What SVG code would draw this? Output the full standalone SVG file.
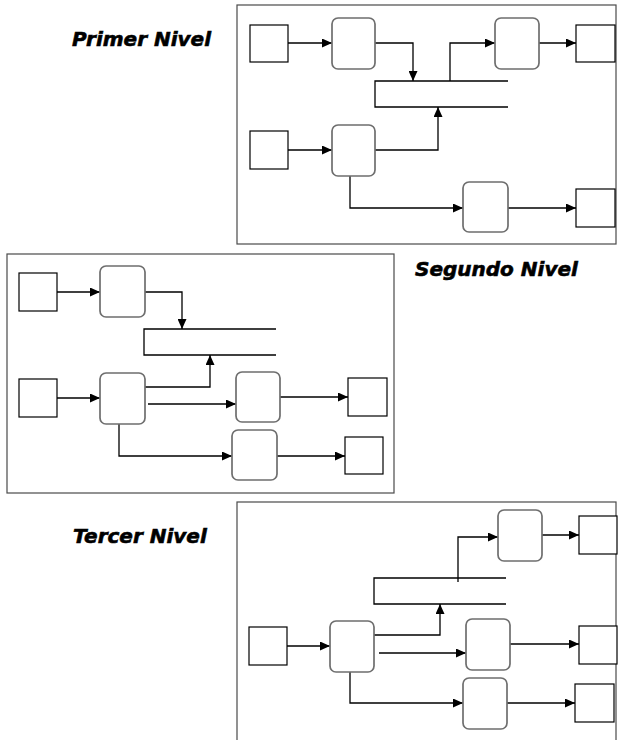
<svg xmlns="http://www.w3.org/2000/svg" width="618" height="740" viewBox="0 0 618 740">
<style>
.frame{fill:none;stroke:#4a4a4a;stroke-width:1.2}
.sq{fill:#fff;stroke:#000;stroke-width:1.2}
.rb{fill:#fff;stroke:#6e6e6e;stroke-width:1.7}
.ln{fill:none;stroke:#000;stroke-width:1.3}
.ar{fill:none;stroke:#000;stroke-width:1.3;marker-end:url(#ah)}
.lbl{font-family:"DejaVu Sans",sans-serif;font-weight:bold;font-style:italic;font-size:20px;fill:#000;stroke:#000;stroke-width:0.6}
</style>
<defs>
<marker id="ah" viewBox="0 0 10 9" refX="10" refY="4.5" markerWidth="10" markerHeight="9" markerUnits="userSpaceOnUse" orient="auto">
<path d="M0,0 L10,4.5 L0,9 z" fill="#000"/>
</marker>
</defs>
<rect width="618" height="740" fill="#fff"/>
<g id="labels">
<text class="lbl" x="72" y="46">Primer Nivel</text>
<text class="lbl" x="415" y="276">Segundo Nivel</text>
<text class="lbl" x="73" y="543">Tercer Nivel</text>
</g>
<g id="frames">
<rect class="frame" x="237" y="5" width="379" height="239"/>
<rect class="frame" x="7" y="254" width="387" height="239"/>
<rect class="frame" x="237" y="502" width="379" height="260"/>
</g>
<g id="connectors">
<path class="ar" d="M288,43 H332"/>
<path class="ar" d="M375,43 H413 V81"/>
<path class="ar" d="M450,81 V43 H495"/>
<path class="ar" d="M539,43 H576"/>
<path class="ar" d="M288,150 H332"/>
<path class="ar" d="M375,150 H438 V107"/>
<path class="ar" d="M350,176 V208 H463"/>
<path class="ar" d="M508,208 H576"/>
<path class="ar" d="M57,292 H100"/>
<path class="ar" d="M145,292 H182 V329"/>
<path class="ar" d="M57,398 H100"/>
<path class="ar" d="M145,387 H210 V355"/>
<path class="ar" d="M148,404 H236"/>
<path class="ar" d="M280,397 H348"/>
<path class="ar" d="M119,424 V456 H232"/>
<path class="ar" d="M277,456 H345"/>
<path class="ar" d="M458,582 V537 H498"/>
<path class="ar" d="M542,535 H579"/>
<path class="ar" d="M287,646 H330"/>
<path class="ar" d="M374,635 H440 V604"/>
<path class="ar" d="M379,653 H466"/>
<path class="ar" d="M510,644 H579"/>
<path class="ar" d="M350,672 V703 H463"/>
<path class="ar" d="M507,703 H575"/>
</g>
<g id="store1"><path class="ln" d="M508,81 H375 V107 H508"/></g>
<g id="store2"><path class="ln" d="M276,329 H144 V355 H276"/></g>
<g id="store3"><path class="ln" d="M506,578 H374 V604 H506"/></g>
<g id="p1-s1"><rect class="sq" x="250" y="25" width="38" height="37"/></g>
<g id="p1-b1"><rect class="rb" x="332" y="18" width="43" height="51" rx="6"/></g>
<g id="p1-b2"><rect class="rb" x="495" y="18" width="44" height="51" rx="6"/></g>
<g id="p1-s2"><rect class="sq" x="576" y="25" width="39" height="37"/></g>
<g id="p1-s3"><rect class="sq" x="250" y="131" width="38" height="38"/></g>
<g id="p1-b3"><rect class="rb" x="332" y="125" width="43" height="51" rx="6"/></g>
<g id="p1-b4"><rect class="rb" x="463" y="182" width="45" height="50" rx="6"/></g>
<g id="p1-s4"><rect class="sq" x="576" y="189" width="39" height="38"/></g>
<g id="p2-s1"><rect class="sq" x="19" y="273" width="38" height="38"/></g>
<g id="p2-b1"><rect class="rb" x="100" y="266" width="45" height="51" rx="6"/></g>
<g id="p2-s2"><rect class="sq" x="19" y="379" width="38" height="38"/></g>
<g id="p2-b2"><rect class="rb" x="100" y="373" width="45" height="51" rx="6"/></g>
<g id="p2-b3"><rect class="rb" x="236" y="372" width="44" height="50" rx="6"/></g>
<g id="p2-s3"><rect class="sq" x="348" y="378" width="39" height="38"/></g>
<g id="p2-b4"><rect class="rb" x="232" y="430" width="45" height="50" rx="6"/></g>
<g id="p2-s4"><rect class="sq" x="345" y="437" width="38" height="37"/></g>
<g id="p3-b1"><rect class="rb" x="498" y="510" width="44" height="51" rx="6"/></g>
<g id="p3-s1"><rect class="sq" x="579" y="516" width="38" height="38"/></g>
<g id="p3-s2"><rect class="sq" x="249" y="627" width="38" height="38"/></g>
<g id="p3-b2"><rect class="rb" x="330" y="621" width="44" height="51" rx="6"/></g>
<g id="p3-b3"><rect class="rb" x="466" y="619" width="44" height="51" rx="6"/></g>
<g id="p3-s3"><rect class="sq" x="579" y="626" width="38" height="38"/></g>
<g id="p3-b4"><rect class="rb" x="463" y="678" width="44" height="51" rx="6"/></g>
<g id="p3-s4"><rect class="sq" x="575" y="684" width="39" height="38"/></g>
</svg>
